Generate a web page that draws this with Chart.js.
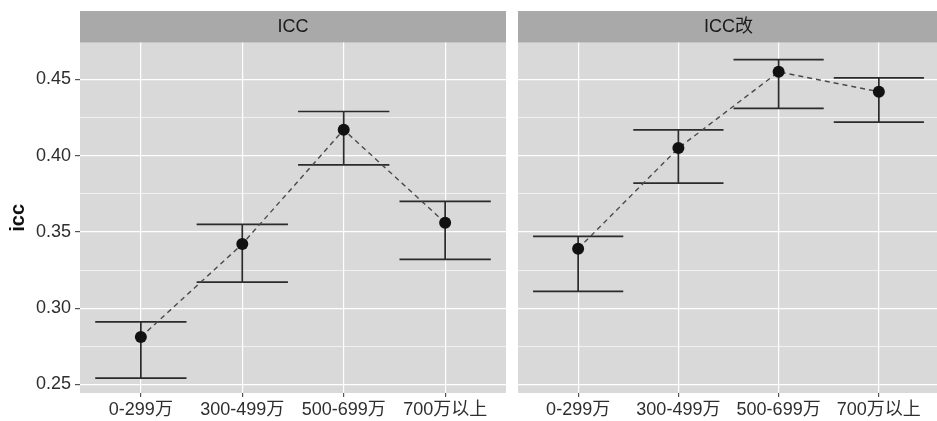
<!DOCTYPE html>
<html>
<head>
<meta charset="utf-8">
<script src="https://cdn.jsdelivr.net/npm/chart.js@4"></script>
<style>
  html, body { margin: 0; padding: 0; background: #fff; }
  #wrap { position: relative; width: 937px; height: 421px; overflow: hidden; }
  canvas { position: absolute; top: 0; }
  #panelA { left: 0; }
  #panelB { left: 512px; }
</style>
</head>
<body>
<div id="wrap">
  <canvas id="panelA" width="512" height="421"></canvas>
  <canvas id="panelB" width="433" height="421"></canvas>
</div>
<script>
/* =========================
   資料
========================= */
const categories = ["0-299万", "300-499万", "500-699万", "700万以上"];
const panelTitles = ["ICC", "ICC改"];
const yTitle = "icc";
const yTicks = [0.25, 0.30, 0.35, 0.40, 0.45];

// ICC
const iccMean  = [0.281, 0.342, 0.417, 0.356];
const iccLower = [0.254, 0.317, 0.394, 0.332];
const iccUpper = [0.291, 0.355, 0.429, 0.370];

// ICC改
const iccKaiMean  = [0.339, 0.405, 0.455, 0.442];
const iccKaiLower = [0.311, 0.382, 0.431, 0.422];
const iccKaiUpper = [0.347, 0.417, 0.463, 0.451];

/* =========================
   樣式
========================= */
const FONT = '"Liberation Sans", "Noto Sans CJK SC", sans-serif';
const PANEL_BG = "#d9d9d9";
const STRIP_BG = "#a9a9a9";
const TEXT = "#2e2e2e";
const BAR_HALF = 0.45;          // errorbar width 0.9
const Y_MIN = 0.2443, Y_MAX = 0.4742;

const minorTicks = yTicks.slice(0, -1).map((v, i) => (v + yTicks[i + 1]) / 2);
const isMajor = (v) => yTicks.some(t => Math.abs(t - v) < 1e-6);

// 面板底色與 strip 背景
const panelBgPlugin = {
  id: "panelBg",
  beforeDraw(chart) {
    const { ctx, chartArea: a } = chart;
    const tb = chart.titleBlock;
    ctx.save();
    ctx.fillStyle = PANEL_BG;
    ctx.fillRect(a.left, a.top, a.right - a.left, a.bottom - a.top);
    ctx.fillStyle = STRIP_BG;
    ctx.fillRect(a.left, tb.top, a.right - a.left, a.top - tb.top);
    ctx.restore();
  }
};

function errorBarPoints(lower, upper) {
  const pts = [];
  lower.forEach((lo, i) => {
    const hi = upper[i];
    pts.push(
      { x: i - BAR_HALF, y: hi }, { x: i + BAR_HALF, y: hi }, { x: i, y: null },
      { x: i, y: hi }, { x: i, y: lo }, { x: i, y: null },
      { x: i - BAR_HALF, y: lo }, { x: i + BAR_HALF, y: lo }, { x: i, y: null }
    );
  });
  return pts;
}

function makePanel(canvasId, title, mean, lower, upper, showY) {
  const ctx = document.getElementById(canvasId).getContext("2d");
  return new Chart(ctx, {
    type: "line",
    data: {
      datasets: [
        {
          data: mean.map((v, i) => ({ x: i, y: v })),
          borderColor: "#4a4a4a",
          borderWidth: 1.4,
          borderDash: [5, 4],
          pointRadius: 6,
          pointBackgroundColor: "#111",
          pointBorderColor: "#111",
          pointBorderWidth: 0,
          order: 0
        },
        {
          data: errorBarPoints(lower, upper),
          borderColor: "#2b2b2b",
          borderWidth: 1.7,
          pointRadius: 0,
          spanGaps: false,
          order: 1
        }
      ]
    },
    options: {
      responsive: false,
      animation: false,
      layout: { padding: showY ? { top: 11, right: 4, left: 0, bottom: 0 } : { top: 11, right: 0, left: 5, bottom: 0 } },
      plugins: {
        legend: { display: false },
        tooltip: { enabled: false },
        title: {
          display: true,
          text: title,
          fullSize: false,
          color: "#1a1a1a",
          font: { family: FONT, size: 18, weight: "normal", lineHeight: 1.2 },
          padding: { top: 5, bottom: 5 }
        }
      },
      scales: {
        x: {
          type: "linear",
          min: -0.6,
          max: 3.6,
          afterBuildTicks: (s) => { s.ticks = categories.map((_, i) => ({ value: i })); },
          afterFit: (s) => { s.height = 28; },
          border: { display: false },
          grid: { color: "#fff", lineWidth: 1.2, tickColor: "#555", tickLength: 4, tickWidth: 1.2 },
          ticks: {
            callback: (v) => categories[v],
            color: TEXT,
            font: { family: FONT, size: 18 },
            padding: 2,
            maxRotation: 0,
            autoSkip: false
          }
        },
        y: {
          min: Y_MIN,
          max: Y_MAX,
          afterBuildTicks: (s) => {
            s.ticks = yTicks.concat(minorTicks).sort((a, b) => a - b).map(v => ({ value: v }));
          },
          afterFit: (s) => { s.width = showY ? 80 : 0; },
          border: { display: false },
          title: {
            display: showY,
            text: yTitle,
            color: "#111",
            font: { family: FONT, size: 20, weight: "bold" },
            padding: { top: 6, bottom: 0 }
          },
          grid: {
            color: "#fff",
            lineWidth: (c) => isMajor(c.tick.value) ? 1.2 : 0.6,
            drawTicks: showY,
            tickLength: 5,
            tickWidth: 1.2,
            tickColor: (c) => isMajor(c.tick.value) ? "#555" : "rgba(0,0,0,0)"
          },
          ticks: {
            display: showY,
            callback: (v) => isMajor(v) ? v.toFixed(2) : "",
            color: TEXT,
            font: { family: FONT, size: 18 },
            padding: 4,
            autoSkip: false
          }
        }
      }
    },
    plugins: [panelBgPlugin]
  });
}

/* =========================
   繪製
========================= */
makePanel("panelA", panelTitles[0], iccMean, iccLower, iccUpper, true);
makePanel("panelB", panelTitles[1], iccKaiMean, iccKaiLower, iccKaiUpper, false);
</script>
</body>
</html>
